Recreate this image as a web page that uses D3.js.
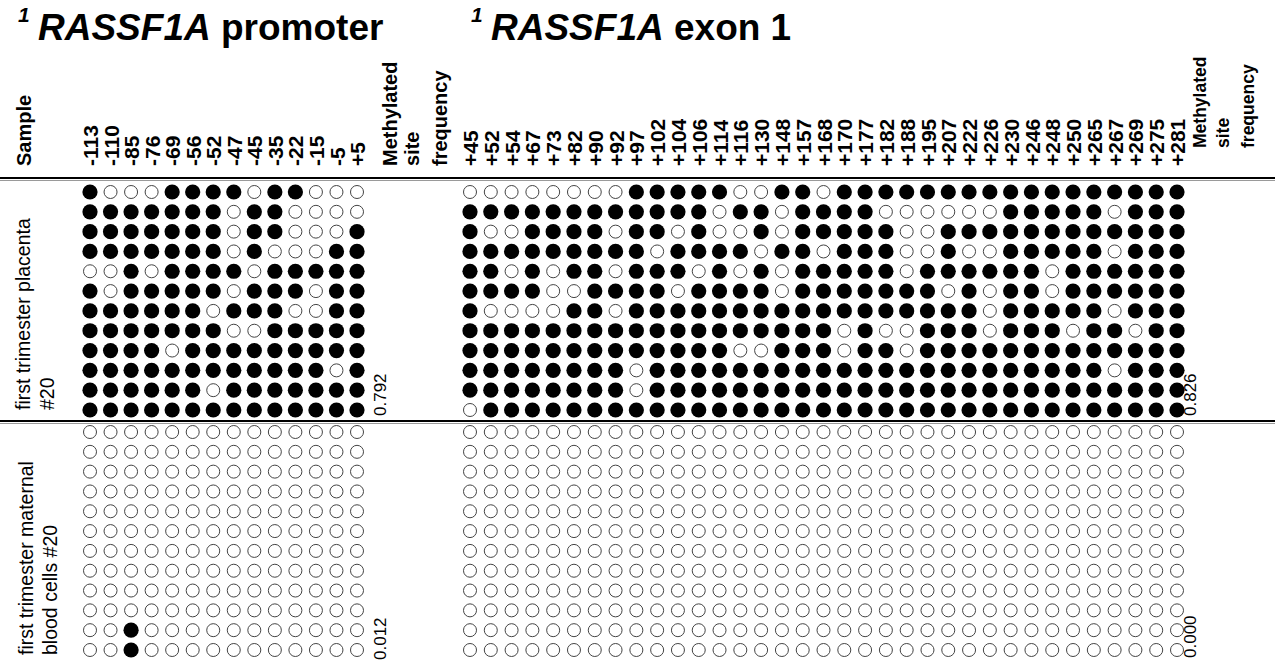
<!DOCTYPE html>
<html>
<head>
<meta charset="utf-8">
<script src="https://cdn.jsdelivr.net/npm/d3@7"></script>
<style>
  body { margin: 0; background: #fff; }
  svg { display: block; }
  text { font-family: "Liberation Sans", Arial, Helvetica, sans-serif; fill: #000; }
</style>
</head>
<body>
<svg id="chart" width="1275" height="664"></svg>
<script>
// CpG site positions relative to the transcription start
const promoterSites = ["-113", "-110", "-85", "-76", "-69", "-56", "-52", "-47", "-45", "-35", "-22", "-15", "-5", "+5"];
const exonSites = ["+45", "+52", "+54", "+67", "+73", "+82", "+90", "+92", "+97", "+102", "+104", "+106",
  "+114", "+116", "+130", "+148", "+157", "+168", "+170", "+177", "+182", "+188", "+195", "+207",
  "+222", "+226", "+230", "+246", "+248", "+250", "+265", "+267", "+269", "+275", "+281"];

// Bisulfite clones, one string per clone: 1 = methylated CpG, 0 = unmethylated
const placentaPromoter = [
  "10001111011000",
  "11111110110000",
  "11111110110001",
  "11111110100011",
  "00101111011111",
  "10111110111011",
  "11111101110011",
  "11111110011111",
  "11110111111111",
  "11111111111101",
  "11111101111111",
  "11111111111111"
];
const placentaExon = [
  "00000000111" + "110011011111" + "111111111111",
  "11111111111" + "101101111000" + "000111110111",
  "10011110110" + "100101111100" + "111111111111",
  "11111111101" + "111011011100" + "100111110111",
  "11010110111" + "010101111101" + "111110111111",
  "11110011110" + "111101111111" + "010110111111",
  "10000110111" + "111111111111" + "110111110111",
  "11111111111" + "111111101001" + "110111011011",
  "11111111111" + "110011101101" + "111111111111",
  "11111111011" + "111111111111" + "111111110111",
  "11111111011" + "111111111111" + "111111111111",
  "01111111111" + "111111111111" + "111111111111"
];
const maternalPromoter = [
  "00000000000000",
  "00000000000000",
  "00000000000000",
  "00000000000000",
  "00000000000000",
  "00000000000000",
  "00000000000000",
  "00000000000000",
  "00000000000000",
  "00000000000000",
  "00100000000000",
  "00100000000000"
];
const maternalExon = d3.range(12).map(() => "0".repeat(35));

const sampleLabels = [
  ["first trimester placenta", "#20"],
  ["first trimester maternal", "blood cells #20"]
];

const W = 1275, H = 664;
const svg = d3.select("#chart");

// Column scales for the two regions, row scales for the two samples
const xProm = d3.scalePoint().domain(promoterSites).range([90, 357]);
const xExon = d3.scalePoint().domain(exonSites).range([470, 1177]);
const cloneIdx = d3.range(12);
const yPlac = d3.scalePoint().domain(cloneIdx).range([192, 410]);
const yMat = d3.scalePoint().domain(cloneIdx).range([432, 650]);

// Titles
function title(x, name, rest) {
  svg.append("text").attr("x", x - 20).attr("y", 22)
    .attr("font-size", 21).attr("font-weight", "bold").attr("font-style", "italic").text("1");
  const t = svg.append("text").attr("x", x).attr("y", 40)
    .attr("font-size", 37).attr("font-weight", "bold");
  t.append("tspan").attr("font-style", "italic").text(name);
  t.append("tspan").text("\u00a0" + rest);
}
title(38, "RASSF1A", "promoter");
title(491, "RASSF1A", "exon 1");

// Rotated header labels through top axes
function siteAxis(scale, bottom) {
  const g = svg.append("g").attr("transform", `translate(0,${bottom})`)
    .call(d3.axisTop(scale).tickSize(0));
  g.select(".domain").remove();
  g.selectAll("text")
    .attr("transform", "rotate(-90)")
    .attr("x", 0).attr("y", 0).attr("dy", "0.36em")
    .attr("text-anchor", "start")
    .style("font-family", "'Liberation Sans', Arial, sans-serif")
    .style("font-size", "21px").style("font-weight", "bold").style("fill", "#000");
}
siteAxis(xProm, 166);
siteAxis(xExon, 166);

function vtext(x, y, str, size, weight) {
  svg.append("text")
    .attr("transform", `translate(${x},${y}) rotate(-90)`)
    .attr("font-size", size).attr("font-weight", weight || "normal")
    .text(str);
}
vtext(31, 166, "Sample", 20, "bold");
vtext(397, 166, "Methylated", 20, "bold");
vtext(419, 166, "site", 20, "bold");
vtext(447, 166, "frequency", 20, "bold");
vtext(1206, 148, "Methylated", 17.5, "bold");
vtext(1229, 148, "site", 17.5, "bold");
vtext(1254, 148, "frequency", 17.5, "bold");

// Rules under the header and between samples
function rule(y) {
  svg.append("line").attr("x1", 0).attr("x2", W).attr("y1", y).attr("y2", y)
    .attr("stroke", "#000").attr("stroke-width", 2.2);
  svg.append("line").attr("x1", 0).attr("x2", W).attr("y1", y + 2.5).attr("y2", y + 2.5)
    .attr("stroke", "#9a9a9a").attr("stroke-width", 1);
}
rule(178);
rule(421);

// Lollipop grid of clones
function drawGrid(rows, xs, ys) {
  const cells = [];
  rows.forEach((row, i) => {
    xs.domain().forEach((site, j) => cells.push({ i, site, m: row[j] === "1" }));
  });
  svg.append("g").selectAll("circle").data(cells).join("circle")
    .attr("cx", d => xs(d.site))
    .attr("cy", d => ys(d.i))
    .attr("r", d => d.m ? 7.6 : 6.5)
    .attr("fill", d => d.m ? "#000" : "#fff")
    .attr("stroke", d => d.m ? "none" : "#444")
    .attr("stroke-width", 1);
  const total = rows.length * xs.domain().length;
  const meth = d3.sum(rows, r => r.split("").filter(c => c === "1").length);
  return meth / total;
}
const fPP = drawGrid(placentaPromoter, xProm, yPlac);
const fPE = drawGrid(placentaExon, xExon, yPlac);
const fMP = drawGrid(maternalPromoter, xProm, yMat);
const fME = drawGrid(maternalExon, xExon, yMat);

// Methylated site frequency per region and sample
const fmt = d3.format(".3f");
vtext(386, 416, fmt(fPP), 17);
vtext(1196, 416, fmt(fPE), 17);
vtext(386, 660, fmt(fMP), 17);
vtext(1196, 658, fmt(fME), 17);

// Sample names
vtext(30, 410, sampleLabels[0][0], 19.5);
vtext(54, 410, sampleLabels[0][1], 19.5);
vtext(33, 655, sampleLabels[1][0], 19.5);
vtext(57, 655, sampleLabels[1][1], 19.5);
</script>
</body>
</html>
